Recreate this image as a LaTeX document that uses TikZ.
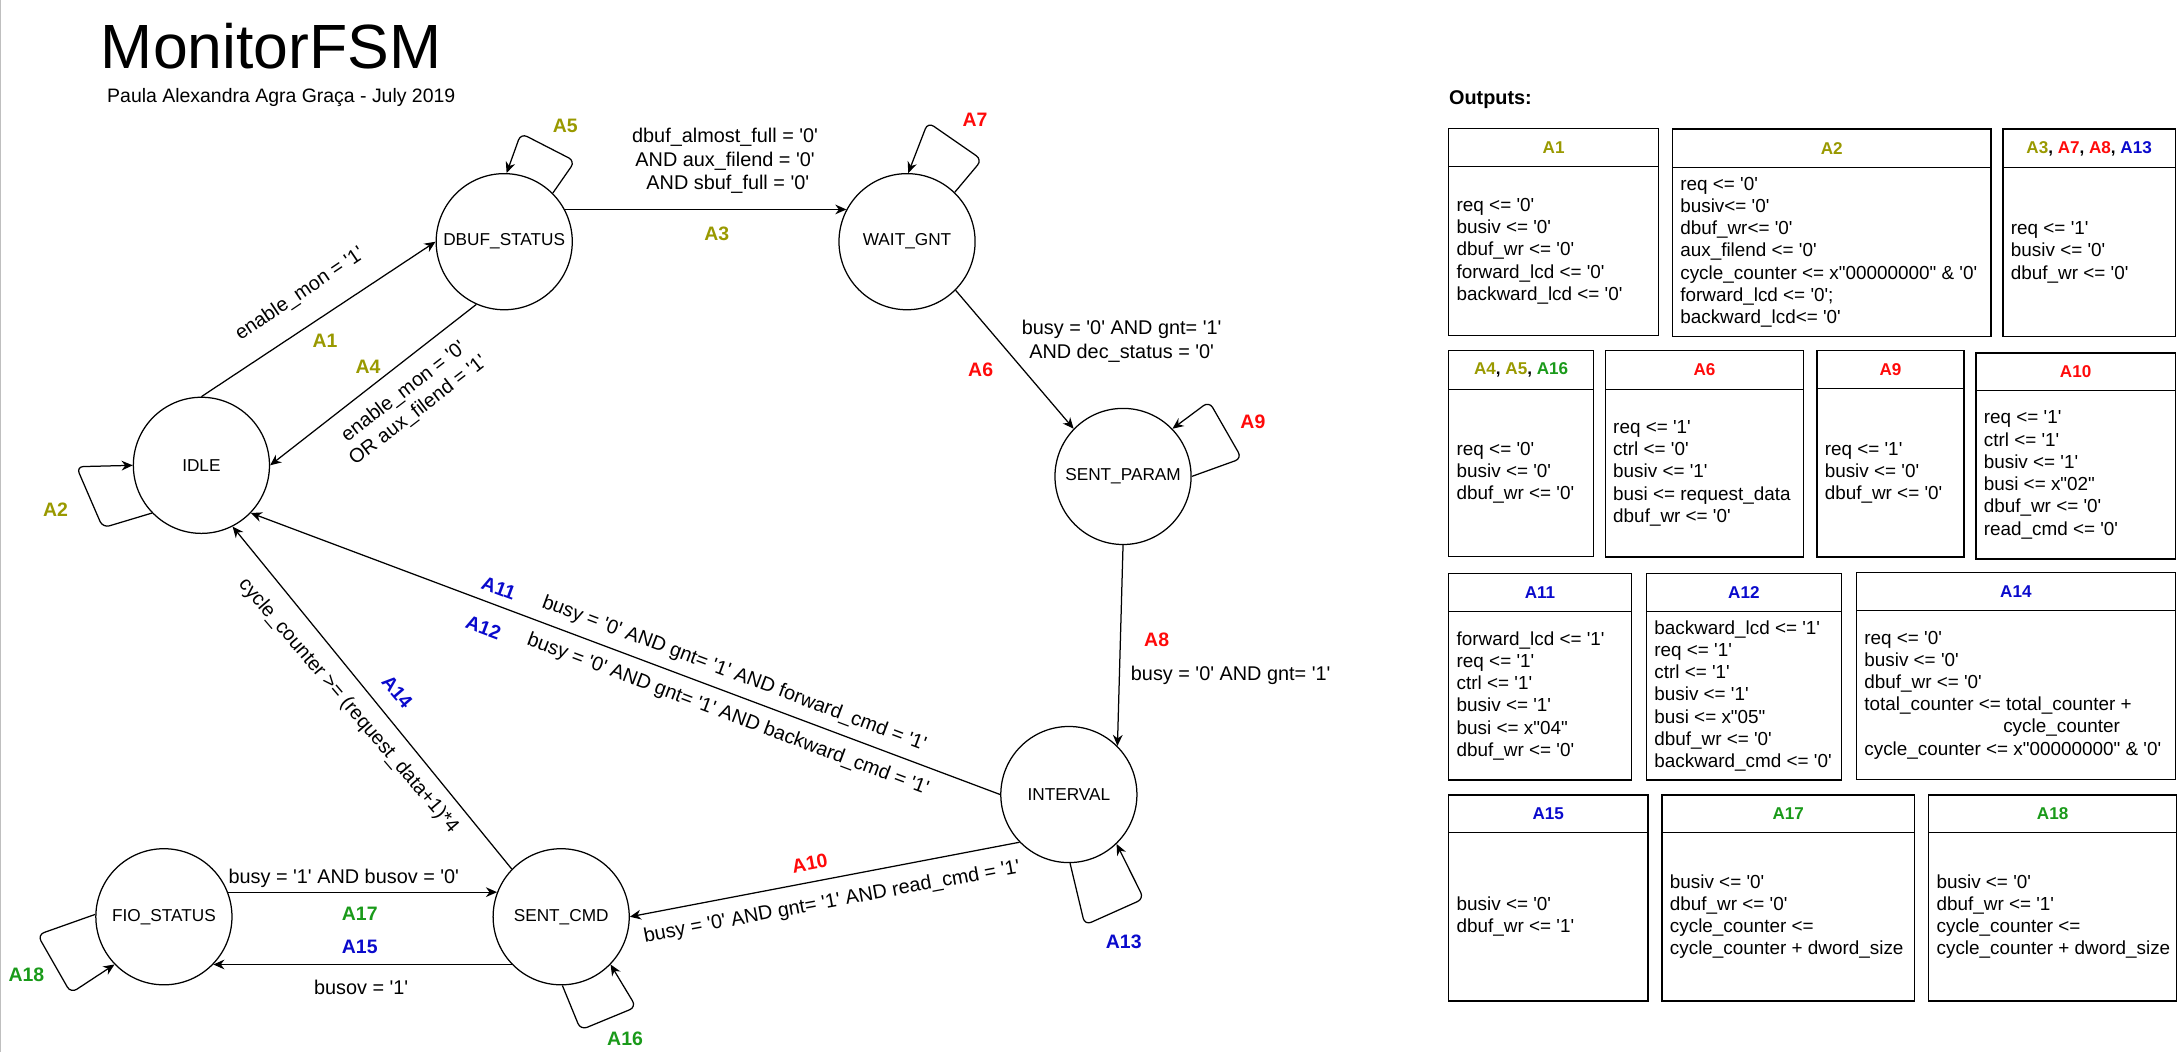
\documentclass[tikz,border=0pt]{standalone}
\usepackage{fontspec}
\setmainfont{Liberation Sans}[Ligatures=TeXOff]
\usetikzlibrary{arrows.meta}
\definecolor{cOl}{HTML}{999900}
\definecolor{cRed}{HTML}{FF0A0A}
\definecolor{cBlue}{HTML}{0A0ACC}
\definecolor{cGreen}{HTML}{1A9A1A}
\newcommand{\obox}[8]{%
  \draw[boxline] (#2,#3) rectangle (#4,#6);
  \draw[boxline] (#2,#5) -- (#4,#5);
  \node[hdr] (#1h) at ({(#2+#4)/2},{(#3+#5)/2}) {#7};
  \node[body] (#1b) at ({#2+5.5},{(#5+#6)/2}) {#8};
}
\begin{document}
\begin{tikzpicture}[x=1pt,y=-1pt,
  state/.style={circle, draw, line width=0.9pt, minimum size=98pt, inner sep=0pt, font=\fontsize{12.4}{14}\selectfont},
  cond/.style={font=\fontsize{14.3}{17}\selectfont, align=center, inner sep=0pt},
  act/.style={font=\fontsize{14}{16}\selectfont\bfseries, inner sep=0pt},
  arr/.style={-{Stealth[length=8pt,width=7pt]}, line width=0.9pt},
  selfloop/.style={arr, rounded corners=5pt},
  boxline/.style={line width=1pt},
  hdr/.style={font=\fontsize{12.3}{14}\selectfont\bfseries, inner sep=0pt},
  body/.style={font=\fontsize{13.6}{16}\selectfont, align=left, inner sep=0pt, anchor=west}
]
\useasboundingbox (0,0) rectangle (1568,757.4);
\draw[black!25, line width=0.8pt] (0.6,0) -- (0.6,757.4);

% title
\node[anchor=base west, inner sep=0pt, font=\fontsize{45}{50}\selectfont] (title) at (72.5,49.2) {MonitorFSM};
\node[anchor=base west, inner sep=0pt, font=\fontsize{14}{16}\selectfont] (subtitle) at (77,74) {Paula Alexandra Agra Graça - July 2019};

% states
\node[state] (DBUF) at (363,174) {DBUF\_STATUS};
\node[state] (WAIT) at (653,174) {WAIT\_GNT};
\node[state] (IDLE) at (145,335) {IDLE};
\node[state] (SENTP) at (808.5,343) {SENT\_PARAM};
\node[state] (INT) at (769.5,572) {INTERVAL};
\node[state] (SCMD) at (404,660) {SENT\_CMD};
\node[state] (FIO) at (118,660) {FIO\_STATUS};

% transitions
\draw[arr] (IDLE.north) -- (DBUF.west);
\draw[arr] (DBUF.246) -- (IDLE.east);
\draw[arr] (DBUF.28) -- (WAIT.152);
\draw[arr] (WAIT.-45) -- (SENTP.136);
\draw[arr] (SENTP.south) -- (INT.45);
\draw[arr] (INT.west) -- (IDLE.-44);
\draw[arr] (SCMD.136) -- (IDLE.-63);
\draw[arr] (INT.224) -- (SCMD.east);
\draw[arr] (FIO.21) -- (SCMD.159);
\draw[arr] (SCMD.224) -- (FIO.-44);

% self loops
\draw[selfloop] (DBUF.45) -- (414,116) -- (375,96) -- (DBUF.88);
\draw[selfloop] (WAIT.46) -- (707,115) -- (668,88) -- (WAIT.89);
\draw[selfloop] (SENTP.0) -- (894,330) -- (870.5,289) -- (SENTP.44);
\draw[selfloop] (IDLE.224) -- (74,380) -- (55,336) -- (IDLE.west);
\draw[selfloop] (INT.-89) -- (781,666) -- (823.5,647) -- (INT.-46);
\draw[selfloop] (SCMD.-89) -- (418,741.5) -- (458,725) -- (SCMD.-44);
\draw[selfloop] (FIO.178) -- (27,673) -- (51,715) -- (FIO.224);

% conditions
\node[cond, rotate=34] (c1) at (216,212) {enable\_mon = '1'};
\node[cond, rotate=37.5] (c4) at (296,289) {enable\_mon = '0'\\OR aux\_filend = '1'};
\node[cond] (c3) at (522,116) {dbuf\_almost\_full = '0'\\AND aux\_filend = '0'\\\ AND sbuf\_full = '0'};
\node[cond] (c6) at (807.5,245.5) {busy = '0' AND gnt= '1'\\AND dec\_status = '0'};
\node[cond] (c8) at (886,486) {busy = '0' AND gnt= '1'};
\node[cond, rotate=-20.6] (c11) at (528.5,485.3) {busy = '0' AND gnt= '1' AND forward\_cmd = '1'};
\node[cond, rotate=-20.6] (c12) at (524,514.8) {busy = '0' AND gnt= '1' AND backward\_cmd = '1'};
\node[cond, rotate=-49.5] (c14) at (250.7,508) {cycle\_counter >= (request\_data+1)*4};
\node[cond, rotate=10.5] (c10) at (599,649.6) {busy = '0' AND gnt= '1' AND read\_cmd = '1'};
\node[cond] (c17) at (247.5,632.5) {busy = '1' AND busov = '0'};
\node[cond] (c15) at (260,711) {busov = '1'};

% action labels
\node[act, text=cOl] (lA1) at (234,245) {A1};
\node[act, text=cOl] (lA2) at (40,367) {A2};
\node[act, text=cOl] (lA3) at (516,168.5) {A3};
\node[act, text=cOl] (lA4) at (265,264) {A4};
\node[act, text=cOl] (lA5) at (407,91) {A5};
\node[act, text=cRed] (lA6) at (706,266) {A6};
\node[act, text=cRed] (lA7) at (702,86.4) {A7};
\node[act, text=cRed] (lA8) at (832.7,460.8) {A8};
\node[act, text=cRed] (lA9) at (902,303.6) {A9};
\node[act, text=cRed, rotate=10.5] (lA10) at (583,621.6) {A10};
\node[act, text=cBlue, rotate=-20.6] (lA11) at (359,423.6) {A11};
\node[act, text=cBlue, rotate=-20.6] (lA12) at (348,452) {A12};
\node[act, text=cBlue] (lA13) at (809,678) {A13};
\node[act, text=cBlue, rotate=-49.5] (lA14) at (286,498) {A14};
\node[act, text=cBlue] (lA15) at (259,682) {A15};
\node[act, text=cGreen] (lA16) at (450,748) {A16};
\node[act, text=cGreen] (lA17) at (259,658) {A17};
\node[act, text=cGreen] (lA18) at (19,702) {A18};

% outputs
\node[anchor=base west, inner sep=0pt, font=\fontsize{14.3}{16}\selectfont\bfseries] (outputs) at (1043,75.5) {Outputs:};

\obox{bA1}{1043}{92.5}{1194}{120}{241.5}{\textcolor{cOl}{A1}}
 {req <= '0'\\busiv <= '0'\\dbuf\_wr <= '0'\\forward\_lcd <= '0'\\backward\_lcd <= '0'}
\obox{bA2}{1204}{93}{1433.3}{120.7}{242.4}{\textcolor{cOl}{A2}}
 {req <= '0'\\busiv<= '0'\\dbuf\_wr<= '0'\\aux\_filend <= '0'\\cycle\_counter <= x"00000000" \& '0'\\forward\_lcd <= '0';\\backward\_lcd<= '0'}
\obox{bA3}{1442}{93}{1566}{120.7}{242.4}{\textcolor{cOl}{A3}, \textcolor{cRed}{A7}, \textcolor{cRed}{A8}, \textcolor{cBlue}{A13}}
 {req <= '1'\\busiv <= '0'\\dbuf\_wr <= '0'}
\obox{bA4}{1043}{252.5}{1147.2}{280.3}{400.8}{\textcolor{cOl}{A4}, \textcolor{cOl}{A5}, \textcolor{cGreen}{A16}}
 {req <= '0'\\busiv <= '0'\\dbuf\_wr <= '0'}
\obox{bA6}{1155.7}{252.5}{1298.4}{280.3}{401}{\textcolor{cRed}{A6}}
 {req <= '1'\\ctrl <= '0'\\busiv <= '1'\\busi <= request\_data\\dbuf\_wr <= '0'}
\obox{bA9}{1308}{252.5}{1414}{279.6}{401}{\textcolor{cRed}{A9}}
 {req <= '1'\\busiv <= '0'\\dbuf\_wr <= '0'}
\obox{bA10}{1422.5}{254}{1566}{281.3}{402.5}{\textcolor{cRed}{A10}}
 {req <= '1'\\ctrl <= '1'\\busiv <= '1'\\busi <= x"02"\\dbuf\_wr <= '0'\\read\_cmd <= '0'}
\obox{bA11}{1043}{412.8}{1174.4}{440.4}{561.6}{\textcolor{cBlue}{A11}}
 {forward\_lcd <= '1'\\req <= '1'\\ctrl <= '1'\\busiv <= '1'\\busi <= x"04"\\dbuf\_wr <= '0'}
\obox{bA12}{1185.3}{412.8}{1325.6}{440.4}{561.6}{\textcolor{cBlue}{A12}}
 {backward\_lcd <= '1'\\req <= '1'\\ctrl <= '1'\\busiv <= '1'\\busi <= x"05"\\dbuf\_wr <= '0'\\backward\_cmd <= '0'}
\obox{bA14}{1336.5}{412.3}{1566}{439.7}{561}{\textcolor{cBlue}{A14}}
 {req <= '0'\\busiv <= '0'\\dbuf\_wr <= '0'\\total\_counter <= total\_counter +\\\hspace*{100pt}cycle\_counter\\cycle\_counter <= x"00000000" \& '0'}
\obox{bA15}{1043}{572.4}{1186.3}{599.5}{720.5}{\textcolor{cBlue}{A15}}
 {busiv <= '0'\\dbuf\_wr <= '1'}
\obox{bA17}{1196.5}{572.4}{1378.3}{599.5}{720.5}{\textcolor{cGreen}{A17}}
 {busiv <= '0'\\dbuf\_wr <= '0'\\cycle\_counter <=\\cycle\_counter + dword\_size}
\obox{bA18}{1388.5}{572.4}{1567}{599.5}{720.5}{\textcolor{cGreen}{A18}}
 {busiv <= '0'\\dbuf\_wr <= '1'\\cycle\_counter <=\\cycle\_counter + dword\_size}
\end{tikzpicture}
\end{document}
